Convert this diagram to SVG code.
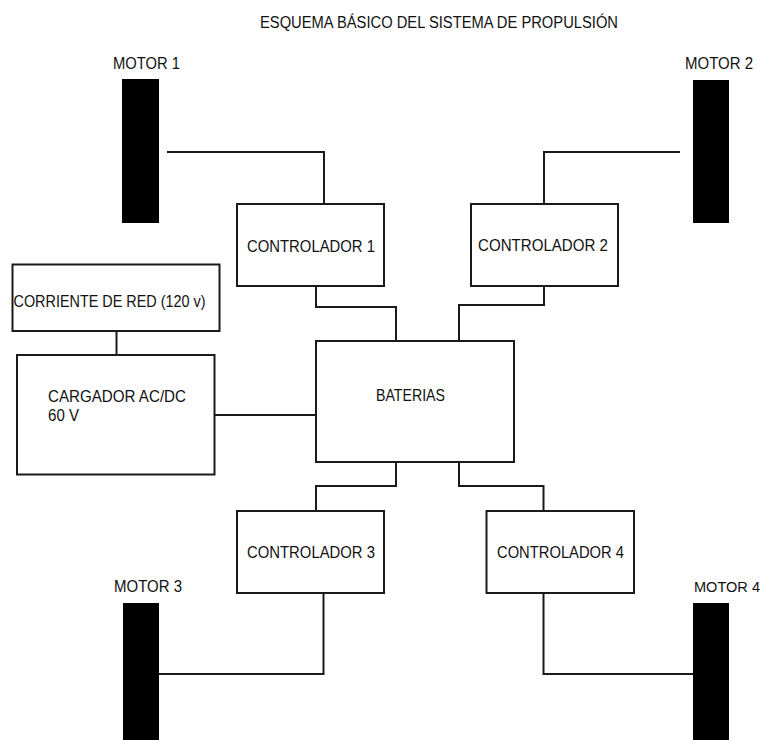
<svg xmlns="http://www.w3.org/2000/svg" width="766" height="740" viewBox="0 0 766 740">
<style>
  .box { fill: #ffffff; stroke: #1a1a1a; stroke-width: 2; }
  .motor { fill: #000000; }
  .wire { fill: none; stroke: #1a1a1a; stroke-width: 2; }
  text { font-family: "Liberation Sans", Arial, sans-serif; font-size: 17px; fill: #111111; }
  .title { font-size: 16px; }
  .edge { font-size: 15.5px; }
</style>
<rect width="766" height="740" fill="#ffffff"/>
<text id="title" class="title" x="260" y="28" textLength="358" lengthAdjust="spacingAndGlyphs">ESQUEMA BÁSICO DEL SISTEMA DE PROPULSIÓN</text>
<g id="connectors">
  <path class="wire" d="M167,152 H324 V204"/>
  <path class="wire" d="M680,152 H544 V204"/>
  <path class="wire" d="M316,286 V307 H396 V341"/>
  <path class="wire" d="M544,286 V305 H459 V341"/>
  <path class="wire" d="M116.5,331 V355"/>
  <path class="wire" d="M214.5,415 H316"/>
  <path class="wire" d="M396,462 V486 H316 V511"/>
  <path class="wire" d="M459,462 V486 H543.5 V511"/>
  <path class="wire" d="M323.5,593 V674 H159"/>
  <path class="wire" d="M543.5,593 V674 H693"/>
</g>
<g id="motor1">
  <rect class="motor" x="122" y="79" width="37" height="144"/>
  <text x="113" y="69" textLength="67" lengthAdjust="spacingAndGlyphs">MOTOR 1</text>
</g>
<g id="motor2">
  <rect class="motor" x="693" y="80" width="36" height="143"/>
  <text x="685" y="69" textLength="68" lengthAdjust="spacingAndGlyphs">MOTOR 2</text>
</g>
<g id="motor3">
  <rect class="motor" x="123" y="603" width="36" height="140"/>
  <text x="114" y="592" textLength="68" lengthAdjust="spacingAndGlyphs">MOTOR 3</text>
</g>
<g id="motor4">
  <rect class="motor" x="693" y="603" width="36" height="140"/>
  <text class="edge" x="694" y="592" textLength="66" lengthAdjust="spacingAndGlyphs">MOTOR 4</text>
</g>
<g id="controlador1">
  <rect class="box" x="237" y="204" width="147" height="82"/>
  <text x="247" y="252" textLength="128" lengthAdjust="spacingAndGlyphs">CONTROLADOR 1</text>
</g>
<g id="controlador2">
  <rect class="box" x="471" y="204" width="147" height="82"/>
  <text x="478" y="251" textLength="130" lengthAdjust="spacingAndGlyphs">CONTROLADOR 2</text>
</g>
<g id="controlador3">
  <rect class="box" x="237" y="511" width="147" height="82"/>
  <text x="247" y="558" textLength="128" lengthAdjust="spacingAndGlyphs">CONTROLADOR 3</text>
</g>
<g id="controlador4">
  <rect class="box" x="486.5" y="511" width="147.5" height="82"/>
  <text x="497" y="558" textLength="127" lengthAdjust="spacingAndGlyphs">CONTROLADOR 4</text>
</g>
<g id="baterias">
  <rect class="box" x="316" y="341" width="198" height="121"/>
  <text x="376" y="401" textLength="69" lengthAdjust="spacingAndGlyphs">BATERIAS</text>
</g>
<g id="corriente">
  <rect class="box" x="12.5" y="264.5" width="207" height="66.5"/>
  <text x="13.5" y="307" textLength="192" lengthAdjust="spacingAndGlyphs">CORRIENTE DE RED (120 v)</text>
</g>
<g id="cargador">
  <rect class="box" x="17" y="355" width="197.5" height="119.5"/>
  <text x="48" y="402" textLength="138" lengthAdjust="spacingAndGlyphs">CARGADOR AC/DC</text>
  <text x="48" y="421" textLength="31" lengthAdjust="spacingAndGlyphs">60 V</text>
</g>
</svg>
